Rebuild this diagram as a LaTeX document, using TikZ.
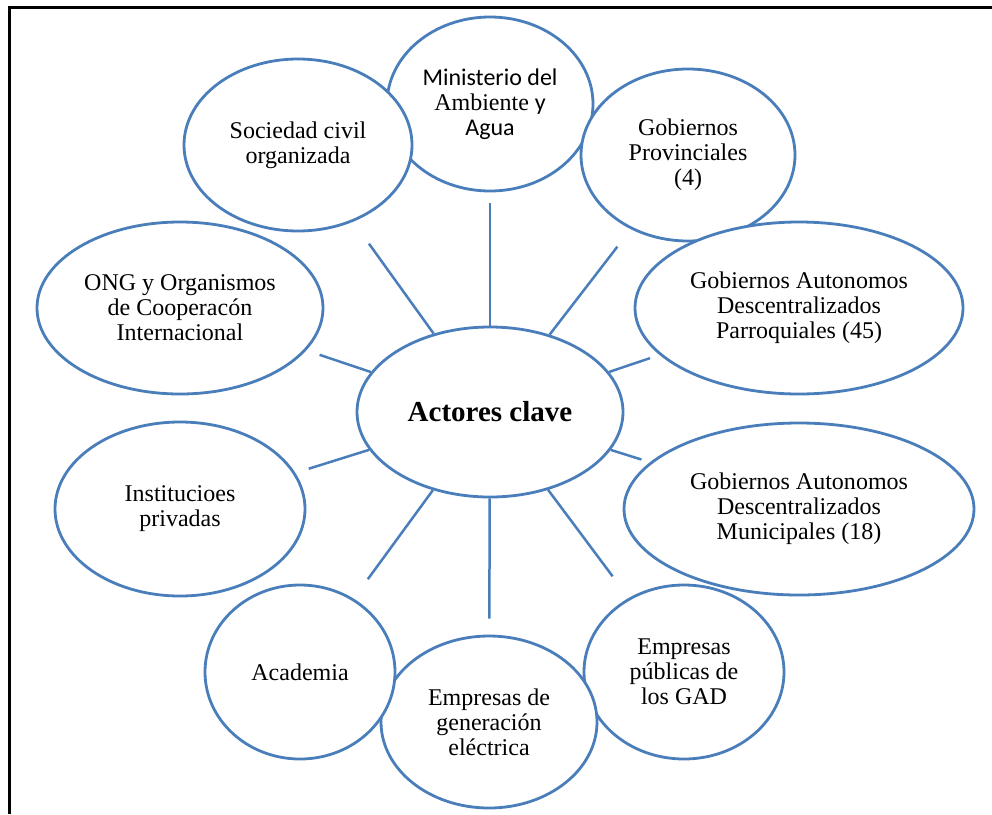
\documentclass[tikz,border=0pt]{standalone}
\usepackage{fontspec}
\setmainfont{Liberation Serif}
\newfontfamily\calibri{Carlito}
\usetikzlibrary{shapes.geometric}
\definecolor{wordblue}{RGB}{74,126,187}
\tikzset{
  actor/.style={ellipse, draw=wordblue, line width=2.8pt, fill=white, inner sep=0pt,
    align=center, font=\fontsize{24}{25}\selectfont},
  hub/.style={actor, font=\fontsize{29}{30}\selectfont\bfseries},
  spoke/.style={draw=wordblue, line width=2.5pt}
}
\begin{document}
\begin{tikzpicture}[x=1pt,y=-1pt]
\useasboundingbox (0,0) rectangle (992,814);
\draw[line width=3pt] (9.5,814) -- (9.5,7.5) -- (992,7.5);
% outer ring, clockwise from the top
\node[actor, minimum width=206pt, minimum height=174pt] (mae) at (490,104)
  {{\calibri Ministerio del}\\Ambiente {\calibri y}\\{\calibri Agua}};
\node[actor, minimum width=214pt, minimum height=172pt] (prov) at (688,155)
  {Gobiernos\\Provinciales\\(4)};
\node[actor, minimum width=328pt, minimum height=172pt] (parr) at (799,308)
  {Gobiernos Autonomos\\Descentralizados\\Parroquiales (45)};
\node[actor, minimum width=350pt, minimum height=172pt] (muni) at (799,509)
  {Gobiernos Autonomos\\Descentralizados\\Municipales (18)};
\node[actor, minimum width=200pt, minimum height=174pt] (pub) at (684,672)
  {Empresas\\públicas de\\los GAD};
\node[actor, minimum width=216pt, minimum height=172pt] (gen) at (489,722)
  {Empresas de\\generación\\eléctrica};
\node[actor, minimum width=190pt, minimum height=174pt] (acad) at (300,672)
  {Academia};
\node[actor, minimum width=250pt, minimum height=174pt] (inst) at (180,509)
  {Institucioes\\privadas};
\node[actor, minimum width=286pt, minimum height=172pt] (ong) at (180,308)
  {ONG y Organismos\\de Cooperacón\\Internacional};
\node[actor, minimum width=228pt, minimum height=172pt] (soc) at (298,145)
  {Sociedad civil\\organizada};
% centre
\node[hub, minimum width=266pt, minimum height=170pt] (hub) at (490,412) {Actores clave};
\foreach \n/\g in {mae/11,prov/22,parr/10,muni/9,pub/27,gen/16,acad/24,inst/14,ong/14,soc/27}
  \draw[spoke, shorten >=\g pt] (hub) -- (\n);
\end{tikzpicture}
\end{document}
